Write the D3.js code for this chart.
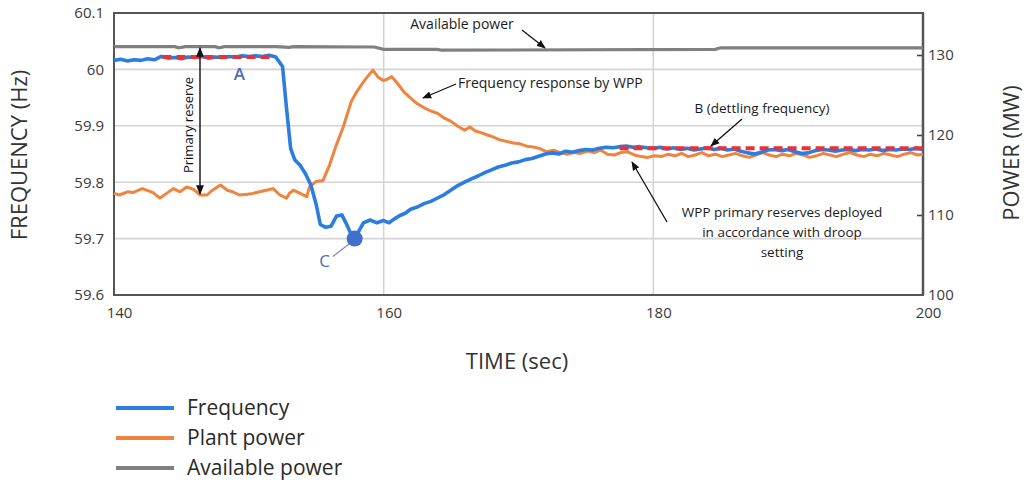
<!DOCTYPE html>
<html><head><meta charset="utf-8">
<script src="https://cdn.jsdelivr.net/npm/d3@7"></script>
<style>
html,body{margin:0;padding:0;background:#fff;}
svg{display:block;font-family:"Open Sans","Noto Sans",sans-serif;}
</style></head>
<body><svg id="c" width="1028" height="486"></svg>
<script>
// ---------- DATA ----------
const xTicks = [140, 160, 180, 200];
const freqTicks = [59.6, 59.7, 59.8, 59.9, 60, 60.1];
const freqTickLabels = ["59.6", "59.7", "59.8", "59.9", "60", "60.1"];
const powerTicks = [100, 110, 120, 130];

const freqTime = [140,140.5,141,141.5,142,142.5,143,143.5,144,144.5,145,145.5,146,146.5,147,147.5,148,148.5,149,149.5,150,150.5,151,151.5,152,152.5,152.8,153.1,153.4,153.8,154.2,154.6,155,155.3,155.7,156.1,156.5,156.9,157.2,157.5,157.85,158.2,158.5,159,159.5,160,160.4,160.8,161.2,161.6,162,162.5,163,163.5,164,164.5,165,165.5,166,166.5,167,167.5,168,168.5,169,169.5,170,170.5,171,171.5,172,172.5,173,173.5,174,174.5,175,175.5,176,176.5,177,177.5,178,178.5,179,179.5,180,180.5,181,181.5,182,182.5,183,183.5,184,184.5,185,185.5,186,186.5,187,187.5,188,188.5,189,189.5,190,190.5,191,191.5,192,192.5,193,193.5,194,194.5,195,195.5,196,196.5,197,197.5,198,198.5,199,199.5,200];
const freqValues = [60.016,60.018,60.015,60.017,60.016,60.019,60.017,60.023,60.020,60.021,60.019,60.022,60.021,60.023,60.020,60.022,60.021,60.023,60.022,60.024,60.023,60.024,60.023,60.025,60.022,60.005,59.93,59.86,59.84,59.83,59.815,59.795,59.76,59.725,59.72,59.722,59.74,59.742,59.728,59.712,59.700,59.715,59.728,59.733,59.728,59.732,59.728,59.735,59.741,59.745,59.752,59.756,59.762,59.766,59.772,59.778,59.786,59.794,59.800,59.806,59.811,59.817,59.822,59.827,59.830,59.834,59.836,59.840,59.842,59.846,59.850,59.852,59.850,59.855,59.853,59.856,59.858,59.857,59.860,59.862,59.861,59.863,59.864,59.862,59.863,59.861,59.860,59.862,59.859,59.861,59.858,59.860,59.857,59.859,59.861,59.858,59.860,59.857,59.859,59.855,59.852,59.850,59.853,59.857,59.858,59.856,59.858,59.854,59.851,59.852,59.856,59.858,59.857,59.855,59.857,59.858,59.856,59.858,59.857,59.859,59.856,59.858,59.857,59.859,59.858,59.860,59.858];

const powerTime = [140,140.4,141,141.4,142.1,142.9,143.4,143.9,144.4,144.9,145.4,145.9,146.4,146.9,147.3,147.9,148.4,148.8,149.3,149.9,150.3,150.8,151.3,151.8,152.3,152.8,153,153.3,153.8,154.3,154.5,155,155.5,156,156.5,157,157.3,157.6,158,158.4,158.8,159.2,159.6,160,160.3,160.6,161,161.5,162,162.5,163,163.5,164,164.5,165,165.5,166,166.4,166.8,167.2,167.7,168.2,168.6,169.1,169.6,170.1,170.6,171.1,171.6,172.1,172.6,173.1,173.6,174.1,174.6,175.1,175.6,176.1,176.6,177.1,177.6,178.1,178.6,179.1,179.6,180.1,180.6,181.1,181.6,182.1,182.6,183.1,183.6,184.1,184.6,185.1,185.6,186.1,186.6,187.1,187.6,188.1,188.6,189.1,189.6,190.1,190.6,191.1,191.6,192.1,192.6,193.1,193.6,194.1,194.6,195.1,195.6,196.1,196.6,197.1,197.6,198.1,198.6,199.1,199.6,200];
const powerValues = [112.7,112.5,112.9,112.8,113.3,112.8,112.1,112.7,113.3,112.9,113.5,113.2,112.5,112.5,113.1,113.75,113.1,112.9,112.5,112.6,112.7,112.9,113.1,113.3,112.5,112.1,112.7,113.1,112.7,112.3,113.5,114.2,114.3,116.3,118.8,121.0,122.6,124.2,125.4,126.4,127.3,128.1,127.2,126.8,127.0,127.3,126.5,125.4,124.6,123.9,123.4,123.0,122.7,122.1,121.7,121.1,120.6,121.0,120.5,120.3,120.0,119.7,119.4,119.2,119.0,118.9,118.6,118.5,118.3,117.9,118.1,117.8,117.6,117.8,117.7,118.0,117.8,118.1,117.6,117.5,117.8,117.9,117.5,117.3,117.2,117.4,117.3,117.6,117.4,117.7,117.3,117.5,117.8,117.4,117.6,117.3,117.5,117.7,117.4,117.2,117.5,117.8,117.5,117.3,117.6,117.4,117.7,117.5,117.2,117.4,117.7,117.5,117.3,117.6,117.8,117.5,117.3,117.6,117.4,117.7,117.5,117.3,117.6,117.8,117.5,117.6];

const availTime = [140,144.5,144.8,145.3,147.5,147.8,148.2,152,153,153.3,159.3,160,164,164.3,184.6,185,200];
const availValues = [131.05,131.05,130.9,131.05,131.05,130.9,131.05,131.05,130.95,131.05,131.0,130.7,130.7,130.6,130.7,130.9,130.9];

// reference (red dashed) frequency levels: A (pre-event) and B (settling)
const refATime = [143.6, 151.8], refAValue = 60.022;
const refBTime = [177.5, 200], refBValue = 59.860;
// nadir C
const nadirTime = 157.85, nadirValue = 59.700;

const legendLabels = ["Frequency", "Plant power", "Available power"];

// ---------- LAYOUT ----------
const svg = d3.select("#c");
const L = 114, R = 923, T = 13, B = 295;
const x = d3.scaleLinear().domain([140, 200]).range([L, R]);
const yF = d3.scaleLinear().domain([59.6, 60.1]).range([B, T]);
const yP = d3.scaleLinear().domain([100, 135.25]).range([B, T]);

const BLUE = "#2b7de0", ORANGE = "#f0843f", GRAY = "#808080", RED = "#e8323a", MARK = "#4070cc";

svg.append("rect").attr("width",1028).attr("height",486).attr("fill","#fff");

// markers
const defs = svg.append("defs");
defs.append("marker").attr("id","ah").attr("viewBox","0 0 10 10").attr("refX",9).attr("refY",5)
  .attr("markerWidth",7).attr("markerHeight",7).attr("orient","auto-start-reverse")
  .append("path").attr("d","M0,1 L10,5 L0,9 Z").attr("fill","#111");

// gridlines
const g = svg.append("g");
g.selectAll(".hg").data([59.7, 59.8, 59.9, 60]).join("line")
  .attr("x1", L).attr("x2", R).attr("y1", d => yF(d)).attr("y2", d => yF(d))
  .attr("stroke", "#d4d4d4").attr("stroke-width", 1.6);
g.selectAll(".vg").data([160, 180]).join("line")
  .attr("x1", d => x(d)).attr("x2", d => x(d)).attr("y1", T).attr("y2", B)
  .attr("stroke", "#d4d4d4").attr("stroke-width", 1.6);

// axes (labels via d3 axes)
const axL = d3.axisLeft(yF).tickValues(freqTicks).tickFormat((d,i) => freqTickLabels[i]).tickSize(0).tickPadding(10);
const axR = d3.axisRight(yP).tickValues(powerTicks).tickSize(-6).tickPadding(5);
const axB = d3.axisBottom(x).tickValues(xTicks).tickFormat(d3.format("d")).tickSize(0).tickPadding(12);

const gl = svg.append("g").attr("transform", `translate(${L},0)`).call(axL);
const gr = svg.append("g").attr("transform", `translate(${R},0)`).call(axR);
const gb = svg.append("g").attr("transform", `translate(0,${B})`).call(axB);
[gl, gr, gb].forEach(a => {
  a.select(".domain").remove();
  a.selectAll("text").attr("font-size", 15).attr("fill", "#3a3a3a").attr("font-family", "Open Sans, sans-serif");
  a.selectAll("line").attr("stroke", "#444").attr("stroke-width", 1.6);
});
gb.selectAll("text").attr("dx", 5);
gr.selectAll(".tick").filter(d => d === 100).select("line").remove();

// plot frame
svg.append("rect").attr("x", L).attr("y", T).attr("width", R - L).attr("height", B - T)
  .attr("fill", "none").attr("stroke", "#555").attr("stroke-width", 2);
svg.append("line").attr("x1", R).attr("x2", R).attr("y1", T).attr("y2", B)
  .attr("stroke", "#555").attr("stroke-width", 2.5);

// series
const plotG = svg.append("g");
const availLine = d3.line().x((d,i) => x(availTime[i])).y(d => yP(d));
plotG.append("path").datum(availValues).attr("d", availLine)
  .attr("fill","none").attr("stroke", GRAY).attr("stroke-width", 3.2);

const powerLine = d3.line().x((d,i) => x(powerTime[i])).y(d => yP(d)).curve(d3.curveLinear);
plotG.append("path").datum(powerValues).attr("d", powerLine)
  .attr("fill","none").attr("stroke", ORANGE).attr("stroke-width", 3).attr("stroke-linejoin","round");

const freqLine = d3.line().x((d,i) => x(freqTime[i])).y(d => yF(d));
plotG.append("path").datum(freqValues).attr("d", freqLine)
  .attr("fill","none").attr("stroke", BLUE).attr("stroke-width", 3.6).attr("stroke-linejoin","round");

// red dashed reference levels
[[refATime, refAValue], [refBTime, refBValue]].forEach(([ts, v]) => {
  plotG.append("line").attr("x1", x(ts[0])).attr("x2", x(ts[1])).attr("y1", yF(v)).attr("y2", yF(v))
    .attr("stroke", RED).attr("stroke-width", 4).attr("stroke-dasharray", "9,5");
});

// nadir marker C
const cx = x(nadirTime), cy = yF(nadirValue);
svg.append("line").attr("x1", cx - 22).attr("y1", cy + 18).attr("x2", cx - 5).attr("y2", cy + 5)
  .attr("stroke", "#7d8aa8").attr("stroke-width", 1.2);
svg.append("circle").attr("cx", cx).attr("cy", cy).attr("r", 8).attr("fill", MARK);
svg.append("text").attr("x", cx - 30).attr("y", cy + 28).attr("text-anchor","middle")
  .attr("font-size", 17).attr("fill", "#4a6cb8").text("C");

// label A
svg.append("text").attr("x", x(149.3)).attr("y", yF(60.022) + 23).attr("text-anchor","middle")
  .attr("font-size", 17).attr("fill", "#4a6cb8").attr("font-weight", 600).text("A");

// Primary reserve arrow
svg.append("line").attr("x1", 200).attr("x2", 200).attr("y1", 48).attr("y2", 194)
  .attr("stroke", "#111").attr("stroke-width", 1.4)
  .attr("marker-start", "url(#ah)").attr("marker-end", "url(#ah)");
svg.append("text").attr("transform", "translate(193,125) rotate(-90)").attr("text-anchor","middle")
  .attr("font-size", 13).attr("fill", "#111").text("Primary reserve");

// annotations
const ann = svg.append("g").attr("font-size", 14).attr("fill", "#1a1a1a");
ann.append("text").attr("x", 462).attr("y", 29).attr("text-anchor","middle").text("Available power");
ann.append("line").attr("x1", 522).attr("y1", 30).attr("x2", 545).attr("y2", 48)
  .attr("stroke","#111").attr("stroke-width",1.3).attr("marker-end","url(#ah)");

ann.append("text").attr("x", 458).attr("y", 88).text("Frequency response by WPP");
ann.append("line").attr("x1", 456).attr("y1", 84).attr("x2", 423).attr("y2", 98)
  .attr("stroke","#111").attr("stroke-width",1.3).attr("marker-end","url(#ah)");

ann.append("text").attr("x", 762).attr("y", 113).attr("text-anchor","middle").attr("font-size", 13.5).text("B (dettling frequency)");
ann.append("line").attr("x1", 742).attr("y1", 119).attr("x2", 711).attr("y2", 146)
  .attr("stroke","#111").attr("stroke-width",1.3).attr("marker-end","url(#ah)");

const wl = ["WPP primary reserves deployed", "in accordance with droop", "setting"];
ann.selectAll(".wl").data(wl).join("text").attr("x", 782).attr("y", (d,i) => 217 + i*20)
  .attr("text-anchor","middle").attr("font-size", 13.5).text(d => d);
ann.append("line").attr("x1", 667).attr("y1", 222).attr("x2", 632).attr("y2", 162)
  .attr("stroke","#111").attr("stroke-width",1.3).attr("marker-end","url(#ah)");

// axis titles
svg.append("text").attr("transform","translate(27,155) rotate(-90)").attr("text-anchor","middle")
  .attr("font-size", 22).attr("fill","#333").text("FREQUENCY (Hz)");
svg.append("text").attr("transform","translate(1019,153) rotate(-90)").attr("text-anchor","middle")
  .attr("font-size", 22).attr("fill","#333").text("POWER (MW)");
svg.append("text").attr("x", 517).attr("y", 369).attr("text-anchor","middle")
  .attr("font-size", 22).attr("fill","#333").text("TIME (sec)");

// legend
const leg = svg.append("g");
const legColors = [BLUE, ORANGE, GRAY];
legendLabels.forEach((lab, i) => {
  const yy = 408 + i * 30;
  leg.append("line").attr("x1", 116).attr("x2", 174).attr("y1", yy).attr("y2", yy)
    .attr("stroke", legColors[i]).attr("stroke-width", 4);
  leg.append("text").attr("x", 187).attr("y", yy + 7).attr("font-size", 21).attr("fill", "#2a2a2a").text(lab);
});
</script></body></html>
